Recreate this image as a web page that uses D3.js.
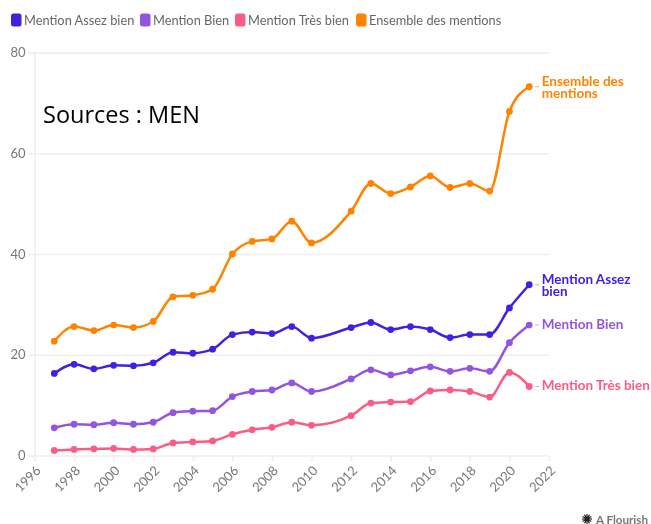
<!DOCTYPE html>
<html>
<head>
<meta charset="utf-8">
<title>Mentions au baccalauréat</title>
<script src="https://cdn.jsdelivr.net/npm/d3@7"></script>
<style>
  html, body { margin: 0; padding: 0; background: #fff; }
  svg { display: block; }
  text { font-family: Lato, "Noto Sans", sans-serif; }
</style>
</head>
<body>
<svg id="chart"></svg>
<script>
// 2011 has no point in the source, the line just runs through
const years = [1997, 1998, 1999, 2000, 2001, 2002, 2003, 2004, 2005, 2006, 2007, 2008, 2009, 2010, 2012, 2013, 2014, 2015, 2016, 2017, 2018, 2019, 2020, 2021];
const assezBien = [16.3, 18.1, 17.2, 17.9, 17.8, 18.4, 20.5, 20.3, 21.1, 24, 24.5, 24.2, 25.6, 23.3, 25.4, 26.4, 25, 25.6, 25, 23.4, 24, 24, 29.3, 33.9];
const bien = [5.5, 6.2, 6.1, 6.5, 6.2, 6.6, 8.5, 8.8, 8.9, 11.7, 12.7, 13, 14.4, 12.7, 15.2, 17, 16, 16.8, 17.6, 16.7, 17.3, 16.7, 22.4, 25.9];
const tresBien = [1, 1.2, 1.3, 1.4, 1.2, 1.3, 2.5, 2.7, 2.9, 4.2, 5.1, 5.6, 6.6, 6, 7.9, 10.4, 10.6, 10.7, 12.8, 13, 12.7, 11.6, 16.5, 13.7];
const ensemble = [22.7, 25.6, 24.8, 25.9, 25.4, 26.6, 31.5, 31.8, 33, 40, 42.5, 43, 46.5, 42.2, 48.5, 54, 52, 53.3, 55.5, 53.2, 54, 52.5, 68.3, 73.2];

const seriesNames = ['Mention Assez bien', 'Mention Bien', 'Mention Très bien', 'Ensemble des mentions'];
const seriesValues = [assezBien, bien, tresBien, ensemble];
const seriesColors = ['#3f22e0', '#9355e0', '#fb5c85', '#ff8300'];
const endLabels = [['Mention Assez', 'bien'], ['Mention Bien'], ['Mention Très bien'], ['Ensemble des', 'mentions']];

const xTicks = [1996, 1998, 2000, 2002, 2004, 2006, 2008, 2010, 2012, 2014, 2016, 2018, 2020, 2022];
const yTicks = [0, 20, 40, 60, 80];

const width = 651,
  height = 524;
const margin = { top: 52.5, right: 102, bottom: 68.5, left: 34.5 };

const svg = d3.select('#chart').attr('width', width).attr('height', height);
const chart = svg.append('g').style('filter', 'blur(0.45px)');

const x = d3.scaleLinear().domain([1996, 2022]).range([margin.left, width - margin.right]);
const y = d3.scaleLinear().domain([0, 80]).range([height - margin.bottom, margin.top]);

// Y axis and grid
const yAxis = chart
  .append('g')
  .attr('transform', 'translate(' + margin.left + ',0)')
  .call(d3.axisLeft(y).tickValues(yTicks).tickSize(6).tickPadding(3));
yAxis.select('.domain').attr('stroke', '#eeeeee').attr('stroke-width', 1.5);
yAxis.selectAll('line').attr('stroke', '#eeeeee').attr('stroke-width', 1.5);
yAxis.selectAll('text').attr('fill', '#777').style('font-size', '13px');
yAxis
  .selectAll('.tick')
  .append('line')
  .attr('x1', 0)
  .attr('x2', width - margin.right - margin.left)
  .attr('stroke', '#eeeeee')
  .attr('stroke-width', 1.5);

// X axis
const xAxis = chart
  .append('g')
  .attr('transform', 'translate(0,' + (height - margin.bottom) + ')')
  .call(d3.axisBottom(x).tickValues(xTicks).tickFormat(d3.format('d')).tickSize(6));
xAxis.select('.domain').remove();
xAxis.selectAll('line').attr('stroke', '#eeeeee').attr('stroke-width', 1.5);
xAxis
  .selectAll('text')
  .attr('fill', '#777')
  .style('font-size', '13px')
  .attr('text-anchor', 'end')
  .attr('y', 0)
  .attr('dy', 0)
  .attr('transform', 'translate(6.5,16) rotate(-45)');

// Lines and points
const line = d3
  .line()
  .x(function (d, i) {
    return x(years[i]);
  })
  .y(function (d) {
    return y(d);
  })
  .curve(d3.curveMonotoneX);

seriesValues.forEach(function (values, s) {
  chart
    .append('path')
    .datum(values)
    .attr('fill', 'none')
    .attr('stroke', seriesColors[s])
    .attr('stroke-width', 2.5)
    .attr('d', line);

  chart
    .selectAll('.pt' + s)
    .data(values)
    .enter()
    .append('circle')
    .attr('fill', seriesColors[s])
    .attr('cx', function (d, i) {
      return x(years[i]);
    })
    .attr('cy', function (d) {
      return y(d);
    })
    .attr('r', 3.4);

  // End label with small connector
  const lastX = x(years[years.length - 1]);
  const lastY = y(values[values.length - 1]);
  chart
    .append('line')
    .attr('x1', lastX + 6)
    .attr('x2', lastX + 10)
    .attr('y1', lastY)
    .attr('y2', lastY)
    .attr('stroke', '#bbb');

  const lines = endLabels[s];
  const label = chart
    .append('text')
    .attr('fill', seriesColors[s])
    .style('font-size', '13.5px')
    .style('font-weight', 700);
  lines.forEach(function (t, i) {
    label
      .append('tspan')
      .attr('x', lastX + 12.5)
      .attr('y', lastY + 4 - (lines.length - 1) * 5 + i * 12)
      .text(t);
  });
});

// Legend
const legendX = [11, 140, 235, 356];
const legend = chart
  .selectAll('.legend')
  .data(seriesNames)
  .enter()
  .append('g')
  .attr('transform', function (d, i) {
    return 'translate(' + legendX[i] + ',13.5)';
  });
legend
  .append('rect')
  .attr('width', 10.5)
  .attr('height', 13)
  .attr('rx', 2.5)
  .attr('fill', function (d, i) {
    return seriesColors[i];
  });
legend
  .append('text')
  .attr('x', 13)
  .attr('y', 11)
  .attr('fill', '#666')
  .style('font-size', '12.8px')
  .text(function (d) {
    return d;
  });

// Flourish credit
const credit = chart.append('g').attr('transform', 'translate(587,519)');
d3.range(0, 180, 30).forEach(function (a) {
  credit
    .append('line')
    .attr('x1', -5)
    .attr('x2', 5)
    .attr('transform', 'rotate(' + a + ')')
    .attr('stroke', '#222')
    .attr('stroke-width', 1.2);
});
credit.append('circle').attr('r', 2.4).attr('fill', '#222');
credit
  .append('text')
  .attr('x', 9)
  .attr('y', 4.5)
  .attr('fill', '#777')
  .style('font-size', '11.6px')
  .style('font-weight', 700)
  .text('A Flourish');

// Pasted-on source note
svg
  .append('text')
  .attr('x', 43)
  .attr('y', 123)
  .attr('fill', '#000')
  .style('font-family', '"Open Sans", sans-serif')
  .style('font-size', '23.5px')
  .text('Sources : MEN');
</script>
</body>
</html>
